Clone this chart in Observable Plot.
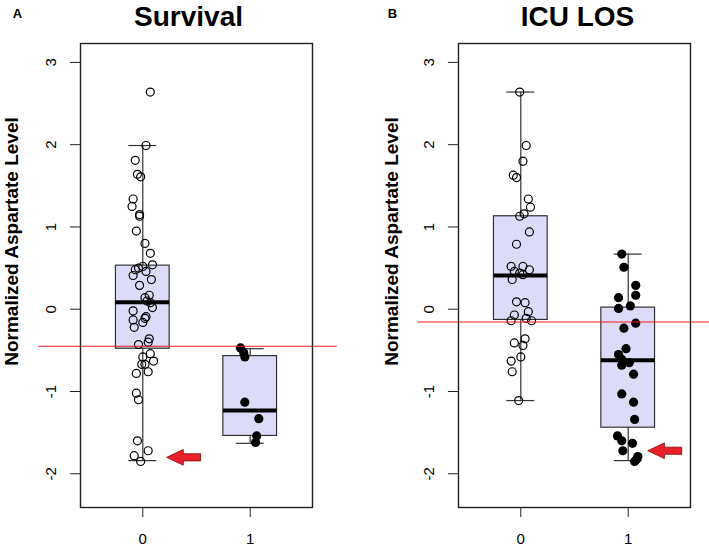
<!DOCTYPE html>
<html><head><meta charset="utf-8">
<script src="https://cdn.jsdelivr.net/npm/d3@7"></script>
<script src="https://cdn.jsdelivr.net/npm/@observablehq/plot@0.6"></script>
<style>
body{margin:0;background:#fff;}
#wrap{position:relative;width:709px;height:548px;overflow:hidden;background:#fff;}
.panel{position:absolute;top:0;}
</style></head><body>
<div id="wrap"><div id="pa" class="panel" style="left:0"></div><div id="pb" class="panel" style="left:354px"></div></div>
<script>
// ---- data ----
const groups = [0, 1];
const yTicks = [-2, -1, 0, 1, 2, 3];
const yLabel = "Normalized Aspartate Level";

// Panel A: Survival
const survival0Values = [2.64,1.99,1.81,1.64,1.61,1.34,1.25,1.15,1.13,0.95,0.80,0.68,0.54,0.52,0.50,0.48,0.46,0.41,0.36,0.29,0.17,0.14,0.10,0.08,0.02,-0.02,-0.09,-0.11,-0.13,-0.16,-0.22,-0.36,-0.40,-0.43,-0.54,-0.58,-0.63,-0.67,-0.67,-0.76,-0.78,-1.02,-1.10,-1.60,-1.72,-1.78,-1.85];
const survival0Jitter = [0.07,0.03,-0.07,-0.05,-0.02,-0.09,-0.10,-0.03,-0.03,-0.06,0.02,0.07,0.09,0.00,-0.04,-0.07,0.03,-0.09,0.08,-0.03,0.06,0.02,0.04,0.07,0.09,-0.09,0.03,0.02,-0.09,0.00,-0.08,0.06,0.05,-0.04,0.07,0.00,0.10,-0.01,0.02,0.05,-0.06,-0.06,-0.04,-0.05,0.05,-0.08,-0.02];
const survival1Values = [-0.47,-0.53,-0.58,-1.13,-1.33,-1.54,-1.62];
const survival1Jitter = [-0.09,-0.06,-0.05,-0.05,0.08,0.06,0.05];
// box stats: [lower whisker, q1, median, q3, upper whisker]
const survivalBox0 = [-1.84, -0.48, 0.085, 0.53, 1.99];
const survivalBox1 = [-1.63, -1.54, -1.23, -0.57, -0.48];
const survivalCut = -0.45;
const survivalArrow = [0.38, -1.80];

// Panel B: ICU LOS
const icu0Values = [2.64,1.99,1.80,1.63,1.60,1.34,1.24,1.16,1.13,0.94,0.79,0.52,0.52,0.48,0.46,0.44,0.42,0.36,0.09,0.08,-0.03,-0.07,-0.11,-0.14,-0.14,-0.36,-0.41,-0.44,-0.58,-0.63,-0.76,-1.11];
const icu0Jitter = [-0.01,0.05,0.02,-0.07,-0.04,0.07,0.09,0.03,-0.01,0.08,-0.04,-0.09,0.02,0.08,-0.06,-0.01,0.02,-0.08,-0.04,0.04,0.07,-0.06,0.05,-0.09,0.10,0.04,-0.06,0.02,0.00,-0.09,-0.08,-0.02];
const icu1Values = [0.67,0.51,0.29,0.17,0.14,0.04,0.01,-0.17,-0.23,-0.48,-0.55,-0.61,-0.65,-0.68,-0.79,-1.03,-1.13,-1.34,-1.54,-1.60,-1.63,-1.72,-1.79,-1.82,-1.85];
const icu1Jitter = [-0.06,-0.04,0.07,0.07,-0.09,0.02,-0.09,0.07,-0.04,-0.02,-0.09,-0.06,0.01,-0.06,0.05,-0.06,0.05,0.06,-0.10,-0.06,0.04,-0.05,0.09,0.08,0.06];
const icuBox0 = [-1.11, -0.13, 0.41, 1.13, 2.64];
const icuBox1 = [-1.84, -1.44, -0.62, 0.02, 0.67];
const icuCut = -0.155;
const icuArrow = [1.34, -1.72];

// ---- drawing ----
const boxHalf = 0.25, capHalf = 0.13;
const arrowSymbol = {
  draw(ctx, size) {
    const r = Math.sqrt(size / Math.PI);
    ctx.moveTo(-r, 0);
    ctx.lineTo(-0.02 * r, -0.46 * r);
    ctx.lineTo(-0.02 * r, -0.21 * r);
    ctx.lineTo(r, -0.21 * r);
    ctx.lineTo(r, 0.21 * r);
    ctx.lineTo(-0.02 * r, 0.21 * r);
    ctx.lineTo(-0.02 * r, 0.46 * r);
    ctx.closePath();
  }
};

function toBox(g, s) { return {group: g, lo: s[0], q1: s[1], med: s[2], q3: s[3], hi: s[4]}; }
function toPoints(g, vals, jit) { return vals.map((v, i) => ({group: g, v, jit: jit[i]})); }

const boldFont = "'Liberation Sans', Arial, sans-serif";

function panel(o) {
  const boxes = [toBox(0, o.box0), toBox(1, o.box1)];
  const pts0 = toPoints(0, o.vals0, o.jit0);
  const pts1 = toPoints(1, o.vals1, o.jit1);
  return Plot.plot({
    width: o.width, height: 548,
    marginLeft: o.marginLeft, marginRight: o.marginRight, marginTop: 43, marginBottom: 41,
    x: {domain: [-0.58, 1.58], axis: null},
    y: {domain: [-2.41, 3.23], axis: null},
    style: {fontFamily: "'Liberation Sans', Arial, sans-serif", background: "white", overflow: "visible"},
    marks: [
      Plot.ruleX(boxes, {x: "group", y1: "lo", y2: "hi", stroke: "#333", strokeWidth: 1.2}),
      Plot.ruleY(boxes, {y: "lo", x1: d => d.group - capHalf, x2: d => d.group + capHalf, stroke: "#333", strokeWidth: 1.2}),
      Plot.ruleY(boxes, {y: "hi", x1: d => d.group - capHalf, x2: d => d.group + capHalf, stroke: "#333", strokeWidth: 1.2}),
      Plot.rect(boxes, {x1: d => d.group - boxHalf, x2: d => d.group + boxHalf, y1: "q1", y2: "q3", fill: "#dcdcf8", stroke: "#333", strokeWidth: 1.2}),
      Plot.ruleY(boxes, {y: "med", x1: d => d.group - boxHalf, x2: d => d.group + boxHalf, stroke: "#000", strokeWidth: 4}),
      Plot.dot(pts0, {x: d => d.group + d.jit, y: "v", r: 4, stroke: "#000", strokeWidth: 1.2, fill: "none"}),
      Plot.dot(pts1, {x: d => d.group + d.jit, y: "v", r: 4.6, fill: "#000", stroke: "none"}),
      Plot.ruleY([o.cut], {y: d => d, x1: o.cutX[0], x2: o.cutX[1], stroke: "#ee1c25", strokeWidth: 1.2}),
      Plot.dot([o.arrow], {x: d => d[0], y: d => d[1], symbol: arrowSymbol, r: 17, fill: "#e8202a", stroke: "#8b0000", strokeWidth: 0.8}),
      Plot.frame({stroke: "#222", strokeWidth: 1.4}),
      Plot.axisY({ticks: yTicks, tickSize: 10, tickRotate: -90, tickPadding: 15, tickFormat: d => String(d), fontSize: 15, label: null, stroke: "#222"}),
      Plot.axisX({ticks: groups, tickSize: 10, tickPadding: 16, tickFormat: d => String(d), fontSize: 15, label: null, stroke: "#222"}),
      Plot.text([o.title], {frameAnchor: "top-left", dx: o.titleDx, dy: -26, text: d => d, fontSize: 28, fontWeight: "bold", fontFamily: boldFont, textAnchor: "middle", lineAnchor: "middle", fill: "#000"}),
      Plot.text([o.letter], {frameAnchor: "top-left", dx: o.letterDx, dy: -30, text: d => d, fontSize: 13, fontWeight: "bold", fontFamily: boldFont, textAnchor: "middle", lineAnchor: "middle", fill: "#000"}),
      Plot.text([yLabel], {frameAnchor: "top-left", dx: o.ylabDx, dy: 198, text: d => d, rotate: -90, fontSize: 19, fontWeight: "bold", fontFamily: boldFont, textAnchor: "middle", lineAnchor: "middle", fill: "#000"})
    ]
  });
}

document.getElementById("pa").append(panel({
  width: 354, marginLeft: 80, marginRight: 42,
  vals0: survival0Values, jit0: survival0Jitter, vals1: survival1Values, jit1: survival1Jitter,
  box0: survivalBox0, box1: survivalBox1, cut: survivalCut, cutX: [-0.97, 1.81], arrow: survivalArrow,
  title: "Survival", titleDx: 108, letter: "A", letterDx: -63, ylabDx: -69
}));
document.getElementById("pb").append(panel({
  width: 355, marginLeft: 104, marginRight: 19,
  vals0: icu0Values, jit0: icu0Jitter, vals1: icu1Values, jit1: icu1Jitter,
  box0: icuBox0, box1: icuBox1, cut: icuCut, cutX: [-0.96, 1.76], arrow: icuArrow,
  title: "ICU LOS", titleDx: 119, letter: "B", letterDx: -66, ylabDx: -67
}));
</script>
</body></html>
